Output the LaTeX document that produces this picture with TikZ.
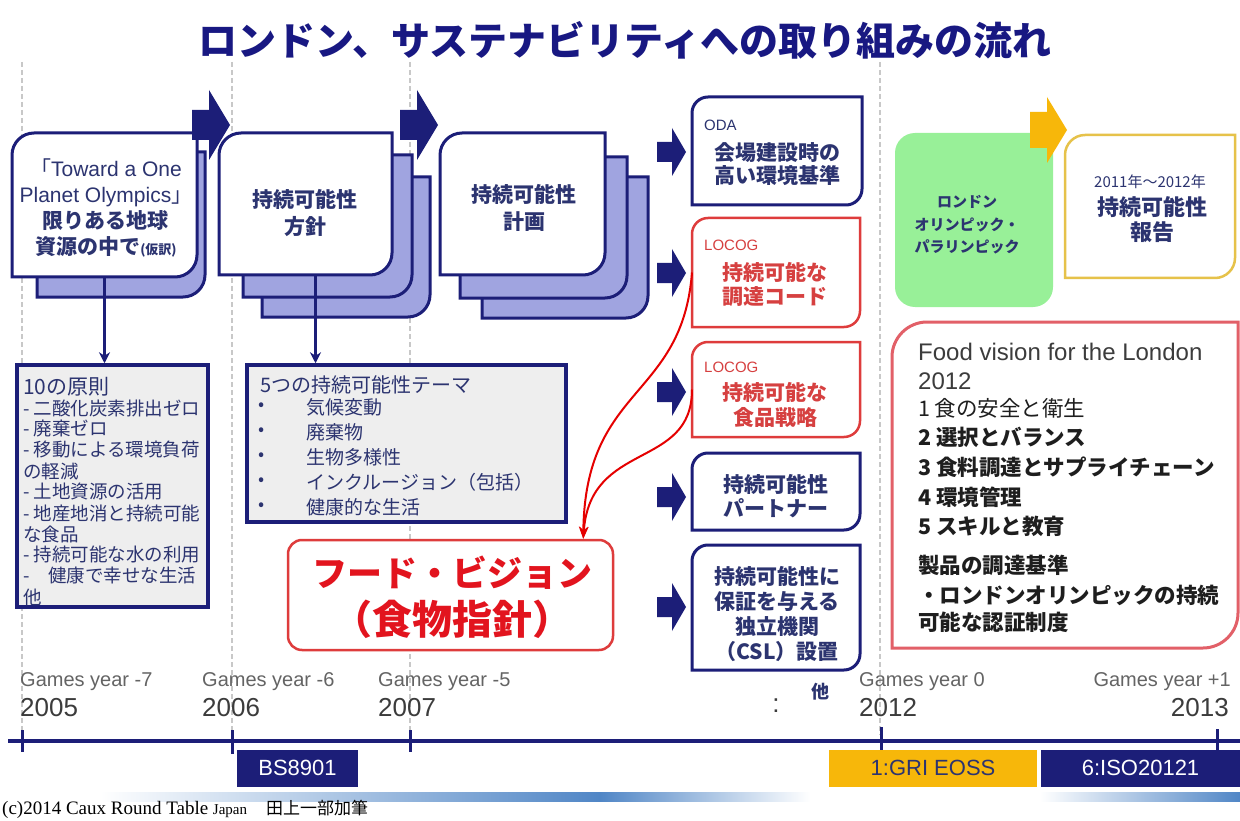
\documentclass[tikz,border=0pt]{standalone}
\usepackage{fontspec}
\setmainfont{Liberation Sans}
\newfontfamily\jp{Noto Sans CJK JP}
\newfontfamily\serifrm{Liberation Serif}
\usetikzlibrary{arrows.meta}
\definecolor{navy}{RGB}{28,30,120}
\definecolor{titleblue}{RGB}{24,24,130}
\definecolor{boxtext}{RGB}{44,52,112}
\definecolor{lav}{RGB}{160,164,224}
\definecolor{lightgray}{RGB}{238,238,238}
\definecolor{redline}{RGB}{222,60,60}
\definecolor{redtext}{RGB}{214,64,64}
\definecolor{foodred}{RGB}{226,20,30}
\definecolor{pinkline}{RGB}{226,96,104}
\definecolor{greenbox}{RGB}{152,240,152}
\definecolor{gold}{RGB}{247,183,10}
\definecolor{goldline}{RGB}{230,194,74}
\definecolor{dashgray}{RGB}{200,200,200}
\definecolor{bandblue}{RGB}{80,134,198}
\definecolor{yeargray}{RGB}{100,100,100}
\definecolor{yeardark}{RGB}{60,60,60}
\definecolor{fvtext}{RGB}{30,30,30}
\newcommand\fsz[2]{\fontsize{#1}{#2}\selectfont}
% leaf-shaped box: rounded top-left and bottom-right corners
\newcommand\leaf[6]{\path[#1] (#2,#5) -- (#2,{#3+#6}) .. controls (#2,{#3+0.45*#6}) and ({#2+0.45*#6},#3) .. ({#2+#6},#3) -- (#4,#3) -- (#4,{#5-#6}) .. controls (#4,{#5-0.45*#6}) and ({#4-0.45*#6},#5) .. ({#4-#6},#5) -- cycle;}
% block arrow: style, x left, x head base, x apex, y centre, half body, half head
\newcommand\blockarrow[7]{\fill[#1] (#2,{#5-#6}) -- (#3,{#5-#6}) -- (#3,{#5-#7}) -- (#4,#5) -- (#3,{#5+#7}) -- (#3,{#5+#6}) -- (#2,{#5+#6}) -- cycle;}
\tikzset{
 stackback/.style={draw=navy, fill=lav, line width=3pt},
 stackfront/.style={draw=navy, fill=white, line width=3pt},
 navybox/.style={draw=navy, fill=white, line width=3pt},
 redbox/.style={draw=redline, fill=white, line width=2.5pt},
 yellowbox/.style={draw=goldline, fill=white, line width=2.5pt},
 pinkbox/.style={draw=pinkline, fill=white, line width=3pt},
 anchorbox/.style={inner sep=0pt, outer sep=0pt},
 jptext/.style={text=boxtext, align=center, inner sep=0pt},
 dashline/.style={draw=dashgray, line width=1.5pt, dash pattern=on 5pt off 3pt},
 downarrow/.style={draw=navy, line width=2.5pt, -{Stealth[length=11pt,width=11pt]}},
 redarrow/.style={draw=red!90!black, line width=2pt, -{Stealth[length=12pt,width=9pt]}},
 tickmark/.style={draw=navy, line width=3pt},
 listline/.style={anchor=west, inner sep=0pt, text=boxtext},
 yearsmall/.style={inner sep=0pt, text=yeargray, font={\fsz{20}{20}}},
 yearbig/.style={inner sep=0pt, text=yeardark, font={\fsz{26}{26}}},
 stdbox/.style={inner sep=0pt, minimum height=37pt, font={\fsz{22}{22}}},
}
\begin{document}
\begin{tikzpicture}[x=1pt,y=-1pt]
\useasboundingbox (0,0) rectangle (1240,821);
\fill[white] (0,0) rectangle (1240,821);

% dashed year guides
\foreach \x in {22,232,410,880} {\draw[dashline] (\x,62) -- (\x,735);}

% title
\node[font={\jp\bfseries\fsz{39}{39}}, text=titleblue, inner sep=0pt] (title) at (625,40) {ロンドン、サステナビリティへの取り組みの流れ};

% stacked boxes
\leaf{stackback}{37}{152}{205}{297}{22}
\leaf{stackfront}{12}{133}{197}{277}{22}
\leaf{stackback}{262}{177}{430}{317}{22}
\leaf{stackback}{243}{155}{412}{297}{22}
\leaf{stackfront}{219}{133}{392}{275}{22}
\leaf{stackback}{482}{177}{648}{318}{22}
\leaf{stackback}{460}{157}{627}{298}{22}
\leaf{stackfront}{440}{133}{605}{275}{22}
\node[anchorbox, minimum width=185pt, minimum height=144pt] (b1) at (104.5,205) {};
\node[anchorbox, minimum width=173pt, minimum height=142pt] (b2) at (305.5,204) {};
\node[anchorbox, minimum width=165pt, minimum height=142pt] (b3) at (522.5,204) {};
\node[jptext, font={\fsz{21}{26}}] (b1t) at (106,208) {{\jp 「}Toward a One\\Planet Olympics{\jp 」}\\{\jp\bfseries 限りある地球}\\{\jp\bfseries 資源の中で{\fsz{13}{13}(仮訳)}}};
\node[jptext, font={\jp\bfseries\fsz{21}{27}}] (b2t) at (305,213) {持続可能性\\方針};
\node[jptext, font={\jp\bfseries\fsz{21}{27}}] (b3t) at (524,208) {持続可能性\\計画};

% big block arrows
\blockarrow{navy}{192}{209}{230}{125}{15}{35}
\blockarrow{navy}{400}{417}{438}{125}{15}{35}

% principles box
\node[draw=navy, fill=lightgray, line width=3.5pt, minimum width=191pt, minimum height=242pt, inner sep=0pt] (p10) at (112.5,486) {};
\node[listline, font={\jp\fsz{21}{21}}] (p10h) at (23,387) {10の原則};
\foreach \t [count=\i] in {- 二酸化炭素排出ゼロ,- 廃棄ゼロ,- 移動による環境負荷,の軽減,- 土地資源の活用,- 地産地消と持続可能,な食品,- 持続可能な水の利用,-　健康で幸せな生活,他}
 {\node[listline, font={\jp\fsz{18.5}{18.5}}] (p10-\i) at (23,{408+21*(\i-1)}) {\t};}

% themes box
\node[draw=navy, fill=lightgray, line width=3.5pt, minimum width=319pt, minimum height=157pt, inner sep=0pt] (p5) at (406.5,443.5) {};
\node[listline, font={\jp\fsz{20}{20}}] (p5h) at (260,385) {5つの持続可能性テーマ};
\foreach \t [count=\i] in {気候変動,廃棄物,生物多様性,インクルージョン（包括）,健康的な生活}
 {\node[inner sep=0pt, text=boxtext, font={\jp\fsz{18}{18}}] (bu-\i) at (262,{407+25*(\i-1)}) {•};
  \node[listline, font={\jp\fsz{19}{19}}] (th-\i) at (306,{407+25*(\i-1)}) {\t};}

% down arrows
\draw[downarrow] (b1.south) -- (b1.south |- p10.north);
\coordinate (b2d) at ([xshift=10pt]b2.south);
\draw[downarrow] (b2d) -- (b2d |- p5.north);

% middle column boxes
\leaf{navybox}{692}{97}{862}{205}{16}
\leaf{redbox}{692}{218}{860}{327}{16}
\leaf{redbox}{692}{342}{860}{437}{16}
\leaf{navybox}{692}{453}{860}{530}{16}
\leaf{navybox}{692}{545}{860}{670}{16}
\node[anchorbox, minimum width=170pt, minimum height=108pt] (oda) at (777,151) {};
\node[anchorbox, minimum width=168pt, minimum height=109pt] (loc1) at (776,272.5) {};
\node[anchorbox, minimum width=168pt, minimum height=95pt] (loc2) at (776,389.5) {};
\node[anchorbox, minimum width=168pt, minimum height=77pt] (part) at (776,491.5) {};
\node[anchorbox, minimum width=168pt, minimum height=125pt] (csl) at (776,607.5) {};
\node[listline, font={\fsz{15}{15}}] (odal) at (704,125) {ODA};
\node[jptext, font={\jp\bfseries\fsz{21}{23.5}}] (odat) at (777,164) {会場建設時の\\高い環境基準};
\node[listline, text=redtext, font={\fsz{15}{15}}] (loc1l) at (704,245) {LOCOG};
\node[jptext, text=redtext, font={\jp\bfseries\fsz{21}{24}}] (loc1t) at (775,284) {持続可能な\\調達コード};
\node[listline, text=redtext, font={\fsz{15}{15}}] (loc2l) at (704,367) {LOCOG};
\node[jptext, text=redtext, font={\jp\bfseries\fsz{21}{25}}] (loc2t) at (775,405) {持続可能な\\食品戦略};
\node[jptext, font={\jp\bfseries\fsz{21}{23.5}}] (partt) at (776,496) {持続可能性\\パートナー};
\node[jptext, font={\jp\bfseries\fsz{21}{25}}] (cslt) at (777,614.5) {持続可能性に\\保証を与える\\独立機関\\（CSL）設置};
\foreach \y in {152,273,392,497,607} {\blockarrow{navy}{657}{672}{686}{\y}{10}{24}}

% food vision (red)
\node[draw=redline, line width=2.5pt, rounded corners=14pt, minimum width=325pt, minimum height=110pt, fill=white, inner sep=0pt] (food) at (450.5,595) {};
\node[jptext, text=foodred, font={\jp\bfseries\fsz{35}{48}}] (foodt) at (452,597) {フード・ビジョン\\{\fsz{40}{48}（食物指針）}};

% red curved connectors
\draw[redarrow] (loc1.west) .. controls (682,400) and (585,385) .. ([xshift=-31pt]food.north east);
\draw[redarrow] (loc2.west) .. controls (692,470) and (590,440) .. ([xshift=-31pt]food.north east);

% right column
\node[fill=greenbox, rounded corners=20pt, minimum width=158pt, minimum height=174pt, inner sep=0pt] (oly) at (974,220) {};
\node[jptext, font={\jp\bfseries\fsz{15}{22.5}}] (olyt) at (967,225) {ロンドン\\オリンピック・\\パラリンピック};
\leaf{yellowbox}{1065}{135}{1235}{278}{20}
\node[anchorbox, minimum width=170pt, minimum height=143pt] (rep) at (1150,206.5) {};
\node[jptext, font={\jp\fsz{15}{15}}] (rept1) at (1150,182) {2011年～2012年};
\node[jptext, font={\jp\bfseries\fsz{22}{25}}] (rept2) at (1152,220) {持続可能性\\報告};
\blockarrow{gold}{1030}{1047}{1067}{130}{18}{33}

\leaf{pinkbox}{892}{322}{1238}{648}{35}
\node[anchorbox, minimum width=346pt, minimum height=326pt] (fv) at (1065,485) {};
\node[listline, text=yeardark, font={\fsz{24}{24}}] (fv1) at (918,352) {Food vision for the London};
\node[listline, text=yeardark, font={\fsz{24}{24}}] (fv2) at (918,381) {2012};
\node[listline, text=fvtext, font={\jp\fsz{21.5}{21.5}}] (fv3) at (918,408) {1 食の安全と衛生};
\foreach \y/\t [count=\i] in {437/2 選択とバランス,467/3 食料調達とサプライチェーン,497/4 環境管理,526/5 スキルと教育,565/製品の調達基準,595/・ロンドンオリンピックの持続,622/可能な認証制度}
 {\node[listline, text=fvtext, font={\jp\bfseries\fsz{21.5}{21.5}}] (fvj-\i) at (918,\y) {\t};}

% timeline
\coordinate (tl0) at (8,741);
\coordinate (tl1) at (1240,741);
\draw[navy, line width=4pt] (tl0) -- (tl1);
\foreach \x/\a/\b in {22/730/752,232/730/754,410/730/752,881/727/750,1217/729/752}
 {\draw[tickmark] (\x,\a) -- (\x,\b);}
\node[yearsmall, anchor=west] (gy7) at (20,682) {Games year -7};
\node[yearbig, anchor=west] (y2005) at (20,708) {2005};
\node[yearsmall, anchor=west] (gy6) at (202,682) {Games year -6};
\node[yearbig, anchor=west] (y2006) at (202,708) {2006};
\node[yearsmall, anchor=west] (gy5) at (378,682) {Games year -5};
\node[yearbig, anchor=west] (y2007) at (378,708) {2007};
\node[yearsmall, anchor=west] (gy0) at (859,682) {Games year 0};
\node[yearbig, anchor=west] (y2012) at (859,708) {2012};
\node[yearsmall, anchor=east] (gy1) at (1231,682) {Games year +1};
\node[yearbig, anchor=east] (y2013) at (1229,708) {2013};
\node[inner sep=0pt, text=yeardark, font={\fsz{26}{26}}] (dots) at (776,706) {:};
\node[inner sep=0pt, text=boxtext, font={\jp\bfseries\fsz{18}{18}}] (other) at (820,692) {他};

\node[stdbox, fill=navy, text=white, minimum width=121pt] (bs) at (297.5,768) {BS8901};
\node[stdbox, fill=gold, text=boxtext, minimum width=208pt] (gri) at (933,768) {1:GRI EOSS};
\node[stdbox, fill=navy, text=white, minimum width=199pt] (iso) at (1140.5,768) {6:ISO20121};

% decorative band
\shade[left color=white, right color=bandblue] (100,792) rectangle (600,801);
\shade[left color=bandblue, right color=white] (600,792) rectangle (810,801);
\shade[left color=white, right color=bandblue] (1040,792) rectangle (1240,801);

% copyright
\node[anchor=west, inner sep=0pt, font={\serifrm\fsz{19}{19}}] (copy) at (2,809) {(c)2014 Caux Round Table {\fsz{15}{15}Japan}\quad{\jp\fsz{17}{17}田上一部加筆}};
\end{tikzpicture}
\end{document}
